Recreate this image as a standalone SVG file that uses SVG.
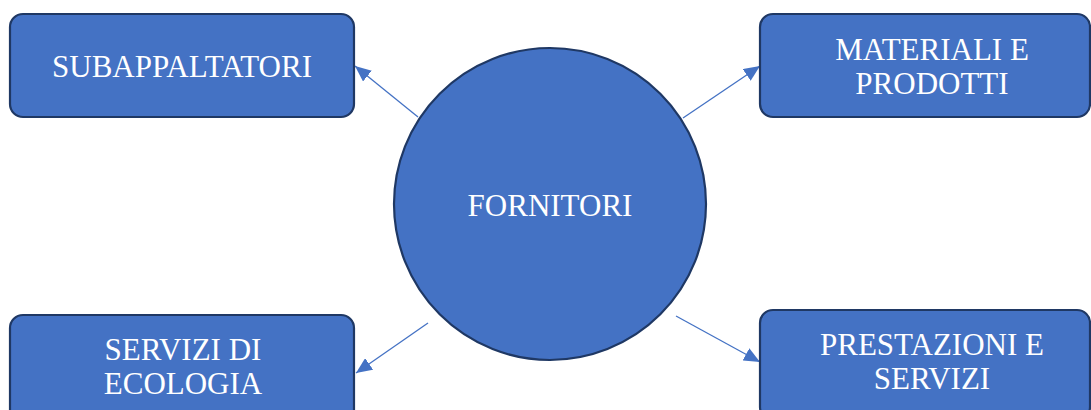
<svg xmlns="http://www.w3.org/2000/svg" width="1091" height="410" viewBox="0 0 1091 410">
<defs>
<style>
.node{fill:#4472C4;stroke:#1F3864;stroke-width:2.2}
.lbl{font-family:"Liberation Serif","Times New Roman",serif;font-size:31px;fill:#FFFFFF;text-anchor:middle}
.conn{stroke:#4472C4;stroke-width:1.3;fill:none;marker-end:url(#ah)}
</style>
<marker id="ah" markerUnits="userSpaceOnUse" markerWidth="18" markerHeight="14" refX="16" refY="7" orient="auto">
<path d="M0,0 L16,7 L0,14 Z" fill="#4472C4"/>
</marker>
</defs>
<rect width="1091" height="410" fill="#FFFFFF"/>
<g id="connectors">
<line class="conn" x1="418" y1="117" x2="355" y2="66"/>
<line class="conn" x1="683" y1="118" x2="760" y2="66"/>
<line class="conn" x1="428" y1="323" x2="356" y2="373"/>
<line class="conn" x1="676" y1="316" x2="760" y2="362"/>
</g>
<g id="fornitori">
<circle class="node" cx="550" cy="204" r="156"/>
<text class="lbl" x="550" y="216">FORNITORI</text>
</g>
<g id="subappaltatori">
<rect class="node" x="10" y="14" width="344" height="103" rx="13"/>
<text class="lbl" x="182" y="77">SUBAPPALTATORI</text>
</g>
<g id="materiali">
<rect class="node" x="760" y="14" width="330" height="103" rx="13"/>
<text class="lbl" x="932" y="60">MATERIALI E</text>
<text class="lbl" x="932" y="94">PRODOTTI</text>
</g>
<g id="servizi-ecologia">
<rect class="node" x="10" y="315" width="344" height="110" rx="13"/>
<text class="lbl" x="183" y="360">SERVIZI DI</text>
<text class="lbl" x="183" y="394">ECOLOGIA</text>
</g>
<g id="prestazioni">
<rect class="node" x="760" y="310" width="330" height="110" rx="13"/>
<text class="lbl" x="932" y="355">PRESTAZIONI E</text>
<text class="lbl" x="932" y="389">SERVIZI</text>
</g>
</svg>
